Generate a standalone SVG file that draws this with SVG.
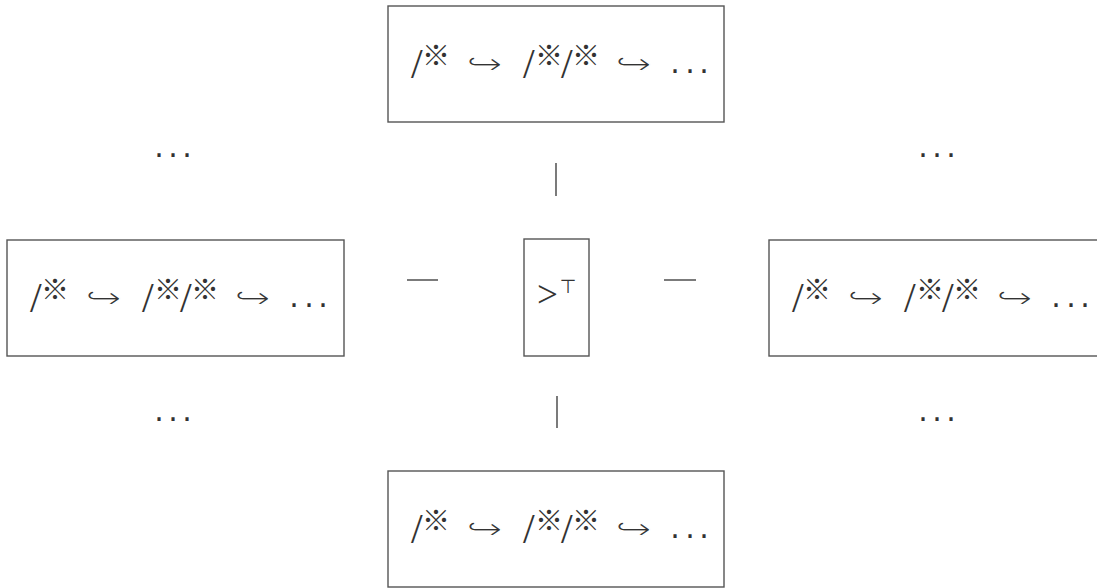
<svg xmlns="http://www.w3.org/2000/svg" width="1097" height="588" viewBox="0 0 1097 588">
<style>
.box{fill:#fff;stroke:#555;stroke-width:1.4}
.sl{font-family:"Liberation Serif",serif;font-size:42px;fill:#333}
.st{font-family:"Noto Sans CJK SC","DejaVu Sans",sans-serif;font-size:28px;fill:#333;text-anchor:middle;dominant-baseline:central}
.ar{font-family:"DejaVu Sans",sans-serif;font-size:30px;fill:#333;stroke:#fff;stroke-width:1.1;dominant-baseline:central}
.dt{font-family:"DejaVu Sans",sans-serif;font-size:30px;fill:#333;text-anchor:middle}
.ln{stroke:#333;stroke-width:1.3;fill:none}
</style>
<rect width="1097" height="588" fill="#fff"/>
<g id="connectors">
<line class="ln" x1="556" y1="163" x2="556" y2="196"/>
<line class="ln" x1="557" y1="396" x2="557" y2="428"/>
<line class="ln" x1="407" y1="280" x2="438" y2="280"/>
<line class="ln" x1="664" y1="280" x2="696" y2="280"/>
</g>
<g id="ellipses">
<text class="dt" y="157"><tspan x="159">.</tspan><tspan x="173">.</tspan><tspan x="187">.</tspan></text>
<text class="dt" y="157"><tspan x="923">.</tspan><tspan x="937">.</tspan><tspan x="951">.</tspan></text>
<text class="dt" y="421"><tspan x="159">.</tspan><tspan x="173">.</tspan><tspan x="187">.</tspan></text>
<text class="dt" y="421"><tspan x="923">.</tspan><tspan x="937">.</tspan><tspan x="951">.</tspan></text>
</g>
<g id="node-top" transform="translate(388,6)">
<rect class="box" width="336" height="116"/>
<text class="sl" x="23" y="72.4">/</text><text class="st" x="48" y="47.5">※</text>
<text class="ar" x="78" y="57.5" textLength="37" lengthAdjust="spacingAndGlyphs">↪</text>
<text class="sl" x="135" y="72.4">/</text><text class="st" x="161" y="47.5">※</text>
<text class="sl" x="173" y="72.4">/</text><text class="st" x="198" y="47.5">※</text>
<text class="ar" x="227" y="57.5" textLength="37" lengthAdjust="spacingAndGlyphs">↪</text>
<text class="dt" y="67"><tspan x="287">.</tspan><tspan x="302">.</tspan><tspan x="316">.</tspan></text>
</g>
<g id="node-left" transform="translate(7,240)">
<rect class="box" width="337" height="116"/>
<text class="sl" x="23" y="72.4">/</text><text class="st" x="48" y="47.5">※</text>
<text class="ar" x="78" y="57.5" textLength="37" lengthAdjust="spacingAndGlyphs">↪</text>
<text class="sl" x="135" y="72.4">/</text><text class="st" x="161" y="47.5">※</text>
<text class="sl" x="173" y="72.4">/</text><text class="st" x="198" y="47.5">※</text>
<text class="ar" x="227" y="57.5" textLength="37" lengthAdjust="spacingAndGlyphs">↪</text>
<text class="dt" y="67"><tspan x="287">.</tspan><tspan x="302">.</tspan><tspan x="316">.</tspan></text>
</g>
<g id="node-center">
<rect class="box" x="524" y="239" width="65" height="117"/>
<text x="537" y="307.3" style="font-family:'Liberation Serif',serif;font-size:37px;fill:#333">&gt;</text>
<text x="568" y="293" text-anchor="middle" style="font-family:'DejaVu Sans',sans-serif;font-size:19px;fill:#333">⊤</text>
</g>
<g id="node-right" transform="translate(769,240)">
<rect class="box" width="337" height="116"/>
<text class="sl" x="23" y="72.4">/</text><text class="st" x="48" y="47.5">※</text>
<text class="ar" x="78" y="57.5" textLength="37" lengthAdjust="spacingAndGlyphs">↪</text>
<text class="sl" x="135" y="72.4">/</text><text class="st" x="161" y="47.5">※</text>
<text class="sl" x="173" y="72.4">/</text><text class="st" x="198" y="47.5">※</text>
<text class="ar" x="227" y="57.5" textLength="37" lengthAdjust="spacingAndGlyphs">↪</text>
<text class="dt" y="67"><tspan x="287">.</tspan><tspan x="302">.</tspan><tspan x="316">.</tspan></text>
</g>
<g id="node-bottom" transform="translate(388,471)">
<rect class="box" width="336" height="116"/>
<text class="sl" x="23" y="72.4">/</text><text class="st" x="48" y="47.5">※</text>
<text class="ar" x="78" y="57.5" textLength="37" lengthAdjust="spacingAndGlyphs">↪</text>
<text class="sl" x="135" y="72.4">/</text><text class="st" x="161" y="47.5">※</text>
<text class="sl" x="173" y="72.4">/</text><text class="st" x="198" y="47.5">※</text>
<text class="ar" x="227" y="57.5" textLength="37" lengthAdjust="spacingAndGlyphs">↪</text>
<text class="dt" y="67"><tspan x="287">.</tspan><tspan x="302">.</tspan><tspan x="316">.</tspan></text>
</g>
</svg>
